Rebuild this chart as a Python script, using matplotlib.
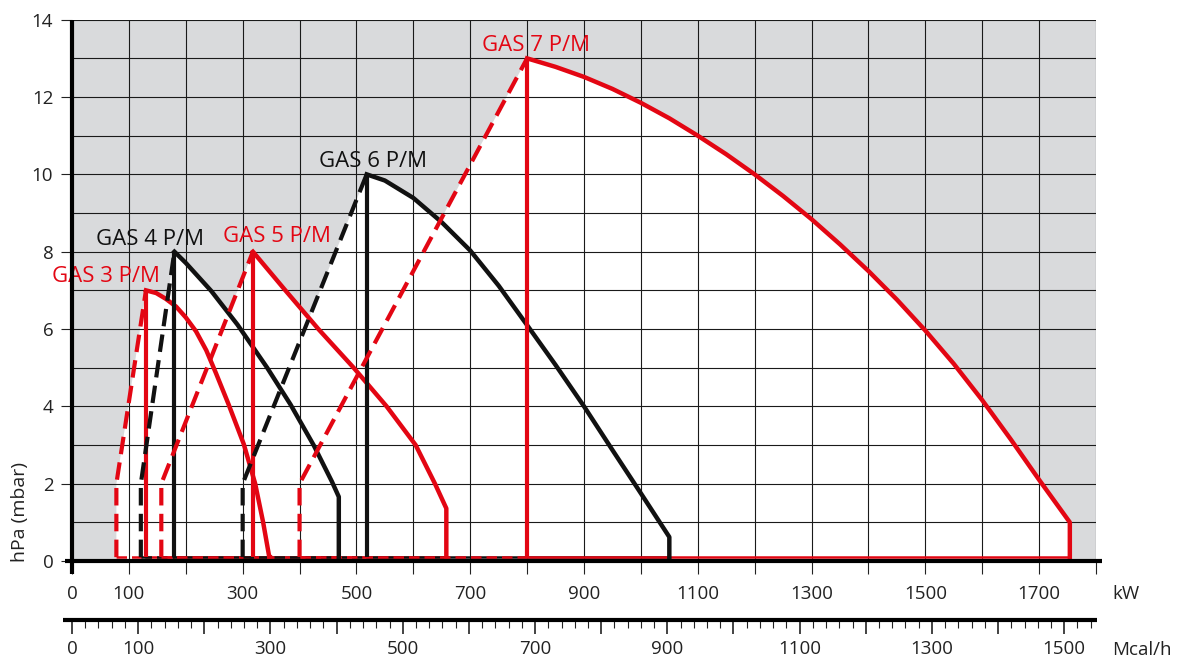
import numpy as np
import matplotlib
matplotlib.use("Agg")
import matplotlib.pyplot as plt
from matplotlib.ticker import MultipleLocator

plt.rcParams['font.family'] = ['Open Sans', 'DejaVu Sans']

RED = '#e30613'
BLACK = '#111111'
GREY = '#d9dadc'

# working fields: start of the dashed line (kW), then the solid curve (kW, hPa)
gas3_start = 78
gas3_kw = [130, 148, 165, 183, 200, 218, 236, 253, 275, 302, 322, 336, 348]
gas3_hpa = [7.0, 6.93, 6.78, 6.58, 6.3, 5.94, 5.45, 4.86, 4.06, 3.02, 2.0, 1.0, 0.0]

gas4_start = 121
gas4_kw = [180, 200, 245, 291, 343, 384, 425, 457, 469]
gas4_hpa = [8.0, 7.71, 6.98, 6.11, 5.0, 4.05, 2.99, 2.05, 1.66]

gas5_start = 157
gas5_kw = [318, 375, 433, 495, 553, 604, 638, 658]
gas5_hpa = [8.0, 7.0, 6.0, 5.0, 4.0, 3.0, 2.0, 1.36]

gas6_start = 300
gas6_kw = [518, 550, 600, 650, 700, 750, 800, 850, 900, 950, 1000, 1050]
gas6_hpa = [10.0, 9.84, 9.39, 8.76, 8.03, 7.12, 6.1, 5.07, 4.0, 2.87, 1.75, 0.62]

gas7_start = 400
gas7_kw = [800, 850, 900, 950, 1000, 1050, 1100, 1150, 1200, 1250, 1300,
           1350, 1400, 1450, 1500, 1550, 1600, 1650, 1700, 1754]
gas7_hpa = [13.0, 12.78, 12.52, 12.21, 11.85, 11.45, 11.0, 10.52, 10.0, 9.44, 8.84,
            8.19, 7.5, 6.76, 5.96, 5.1, 4.16, 3.15, 2.1, 1.0]

start_hpa = 2.0
names = ['GAS 3 P/M', 'GAS 4 P/M', 'GAS 5 P/M', 'GAS 6 P/M', 'GAS 7 P/M']
colors = [RED, BLACK, RED, BLACK, RED]

kw_labels = [0, 100, 300, 500, 700, 900, 1100, 1300, 1500, 1700]
mcal_labels = [0, 100, 300, 500, 700, 900, 1100, 1300, 1500]
KW_TO_MCAL = 0.86

burners = [
    (gas3_start, gas3_kw, gas3_hpa),
    (gas4_start, gas4_kw, gas4_hpa),
    (gas5_start, gas5_kw, gas5_hpa),
    (gas6_start, gas6_kw, gas6_hpa),
    (gas7_start, gas7_kw, gas7_hpa),
]
# label offsets from the peak (kW, hPa), text baseline
label_offsets = [(-166, 0.22), (-138, 0.17), (-53, 0.25), (-84, 0.19), (-80, 0.2)]

W, H = 1178, 660
fig = plt.figure(figsize=(W / 100, H / 100), dpi=100)
ax = fig.add_axes([72 / W, 99 / H, 1024 / W, 541.3 / H])
ax.set_xlim(0, 1800)
ax.set_ylim(0, 14)
ax.set_facecolor(GREY)
ax.set_axisbelow(True)
for s in ax.spines.values():
    s.set_visible(False)

base = 0.1
dash = (0, (4.2, 2.0))

for (start, kw, hpa), col in zip(burners, colors):
    px = [start, start] + kw + [kw[-1]]
    py = [0, start_hpa] + hpa + [0]
    ax.fill(px, py, color='white', lw=0, zorder=0.2)

for (start, kw, hpa), col, name, off in zip(burners, colors, names, label_offsets):
    ax.plot([start, start, kw[0]], [base, start_hpa, hpa[0]], color=col, lw=3,
            linestyle=dash, zorder=3)
    ax.plot([kw[0], kw[0]], [hpa[0], base], color=col, lw=3, zorder=3,
            solid_capstyle='butt')
    ax.plot(kw + [kw[-1]], hpa + [base], color=col, lw=3.2, zorder=3,
            solid_joinstyle='round')
    ax.plot([start, kw[0]], [base, base], color=col, lw=1.8, linestyle=dash, zorder=2.5)
    ax.plot([kw[0], kw[-1]], [base, base], color=col, lw=1.8, zorder=2.5)
    ax.text(kw[0] + off[0], hpa[0] + off[1], name, color=col, fontsize=16,
            ha='left', va='baseline', zorder=5)

# axes lines
ax.plot([-7 / 1024, 1 + 6 / 1024], [0, 0], transform=ax.transAxes, color='black',
        lw=3, clip_on=False, solid_capstyle='butt', zorder=6)
ax.plot([0, 0], [-13 / 541.3, 1], transform=ax.transAxes, color='black',
        lw=3, clip_on=False, solid_capstyle='butt', zorder=6)

kw_ticks = np.arange(0, 1801, 100)
ax.set_xticks(kw_ticks, labels=[str(v) if v in kw_labels else '' for v in kw_ticks])
ax.yaxis.set_major_locator(MultipleLocator(2))
ax.yaxis.set_minor_locator(MultipleLocator(1))
ax.tick_params(axis='x', which='major', length=9.5, width=0.8, pad=8,
               labelsize=13.5, colors='#222222')
ax.tick_params(axis='y', which='major', length=8, width=0.8, pad=5.5,
               labelsize=13.5, colors='#222222')
ax.tick_params(axis='y', which='minor', length=0)
ax.grid(which='both', color='#1a1a1a', lw=0.8)

sec = ax.secondary_xaxis(-59 / 541.3, functions=(lambda x: x * KW_TO_MCAL,
                                                 lambda x: x / KW_TO_MCAL))
sec.spines['bottom'].set_visible(False)
mcal_ticks = np.arange(0, 1501, 100)
sec.set_xticks(mcal_ticks, labels=[str(v) if v in mcal_labels else '' for v in mcal_ticks])
sec.xaxis.set_minor_locator(MultipleLocator(20))
sec.tick_params(which='major', length=10, width=1.2, pad=4.5, labelsize=13.5,
                colors='#222222')
sec.tick_params(which='minor', length=5.8, width=0.8, colors='#222222')
ax.plot([-9 / 1024, 1 + 1 / 1024], [-59 / 541.3] * 2, transform=ax.transAxes,
        color='black', lw=3, clip_on=False, solid_capstyle='butt', zorder=6)

fig.text(1112 / W, 1 - 599 / H, 'kW', fontsize=13.5, color='#222222', va='baseline')
fig.text(1112 / W, 1 - 655 / H, 'Mcal/h', fontsize=13.5, color='#222222', va='baseline')
fig.text(20 / W, 1 - 512 / H, 'hPa (mbar)', fontsize=14, color='#222222',
         rotation=90, ha='center', va='center')

fig.savefig('out.png', dpi=100)
